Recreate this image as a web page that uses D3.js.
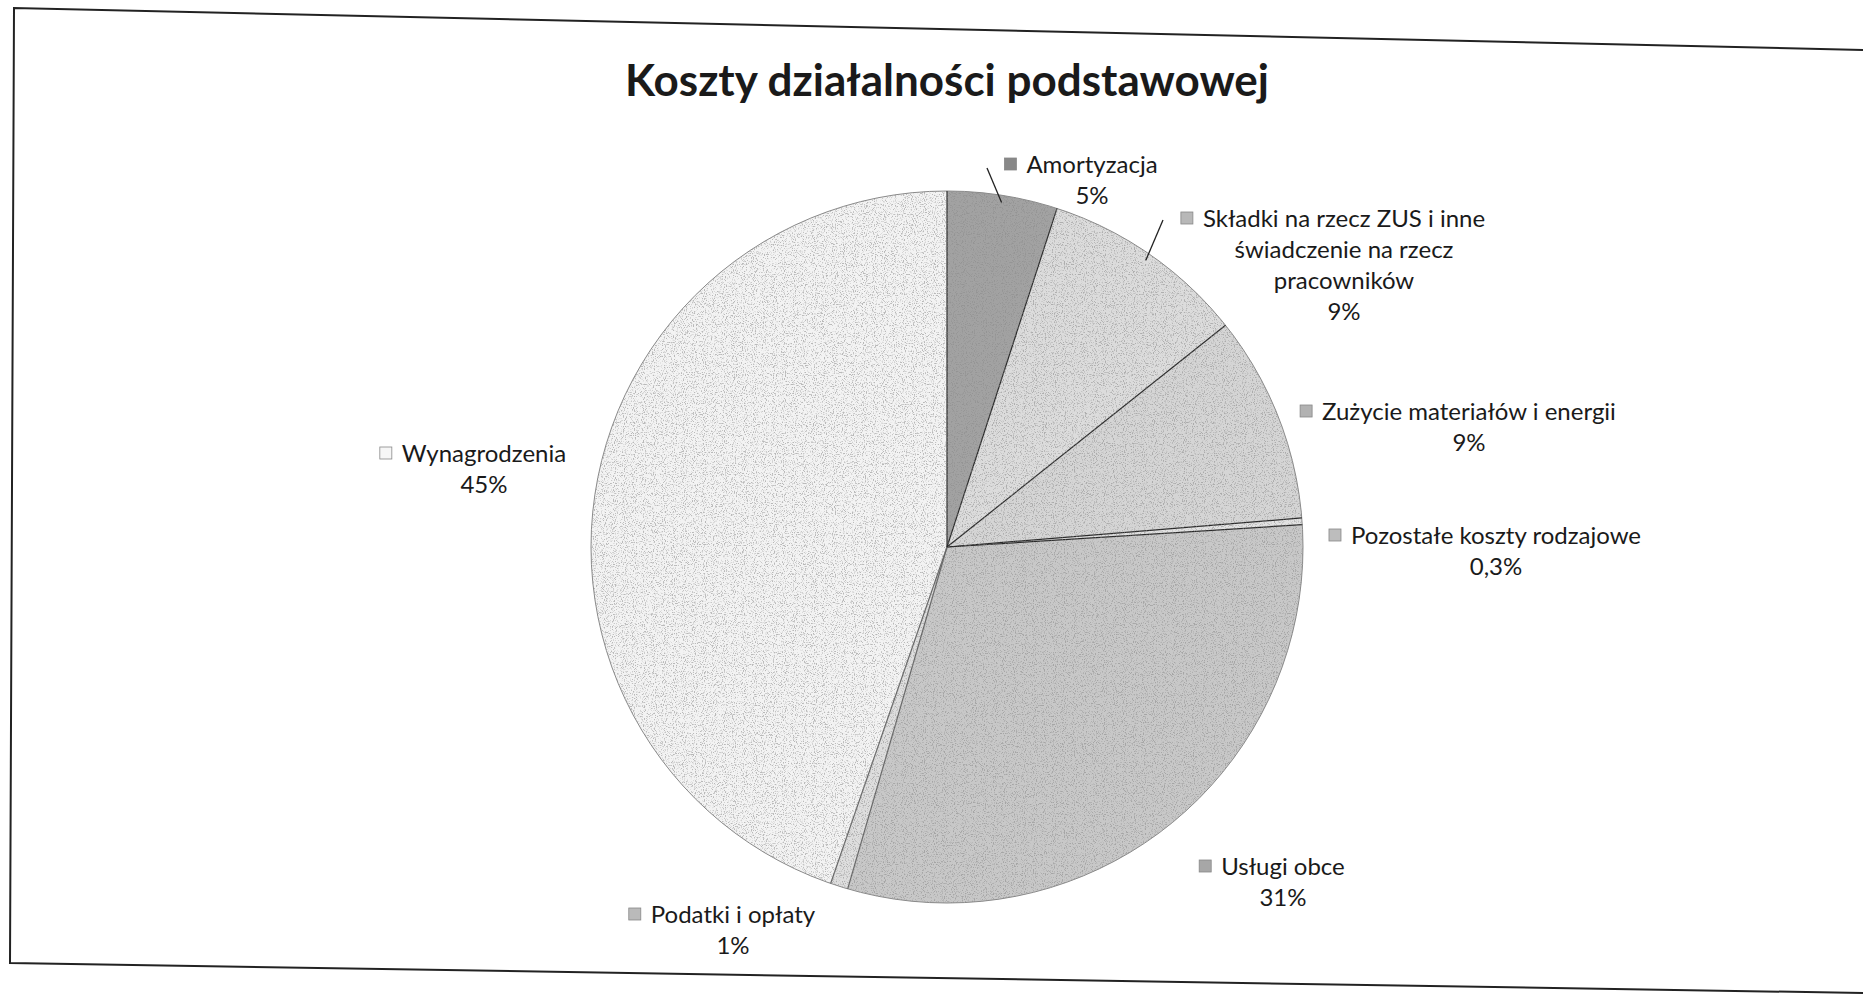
<!DOCTYPE html>
<html>
<head>
<meta charset="utf-8">
<script src="https://cdn.jsdelivr.net/npm/d3@7"></script>
<style>
  body { margin: 0; background: #fff; }
  svg text { font-family: Lato, "Open Sans", sans-serif; fill: #1a1a1a; }
</style>
</head>
<body>
<svg id="chart" width="1863" height="1001"></svg>
<script>
// data
const categories = ["Amortyzacja", "Składki na rzecz ZUS i inne świadczenie na rzecz pracowników",
  "Zużycie materiałów i energii", "Pozostałe koszty rodzajowe", "Usługi obce", "Podatki i opłaty", "Wynagrodzenia"];
const values = [5, 9.3, 9.4, 0.3, 30.5, 0.8, 44.7];
const percentLabels = ["5%", "9%", "9%", "0,3%", "31%", "1%", "45%"];
// label text split into lines, as on the chart
const labelLines = [
  ["Amortyzacja"],
  ["Składki na rzecz ZUS i inne", "świadczenie na rzecz", "pracowników"],
  ["Zużycie materiałów i energii"],
  ["Pozostałe koszty rodzajowe"],
  ["Usługi obce"],
  ["Podatki i opłaty"],
  ["Wynagrodzenia"]
];
const colors = ["#a2a2a2", "#dcdcdc", "#d5d5d5", "#e2e2e2", "#c8c8c8", "#dedede", "#f3f3f3"];

// layout: label anchors (text centre x, first baseline y) and leader lines
const labelPos = [[1092, 173], [1344, 227], [1469, 420], [1496, 544], [1283, 875], [733, 923], [484, 462]];
const leaderStart = {0: [987, 168], 1: [1163, 220]};
const lineGap = 31;

const width = 1863, height = 1001;
const cx = 947, cy = 547, radius = 356;
const svg = d3.select("#chart");

// scanned page frame (slightly skewed)
svg.append("path")
  .attr("d", "M1863,50 L14,8 L10,963 L1863,993")
  .attr("fill", "none")
  .attr("stroke", "#222")
  .attr("stroke-width", 2);

// title
svg.append("text")
  .attr("x", 947)
  .attr("y", 96)
  .attr("text-anchor", "middle")
  .attr("font-size", 44)
  .attr("font-weight", "bold")
  .text("Koszty działalności podstawowej");

// grain filter to mimic the photocopy
const defs = svg.append("defs");
const f = defs.append("filter").attr("id", "grain").attr("x", 0).attr("y", 0).attr("width", 1).attr("height", 1);
f.append("feTurbulence").attr("type", "fractalNoise").attr("baseFrequency", 0.9).attr("numOctaves", 2).attr("seed", 3).attr("result", "n");
f.append("feColorMatrix").attr("in", "n").attr("type", "matrix")
  .attr("values", "0 0 0 0 0.25  0 0 0 0 0.25  0 0 0 0 0.25  5 0 0 0 -2.6");
defs.append("clipPath").attr("id", "pieClip")
  .append("circle").attr("cx", cx).attr("cy", cy).attr("r", radius);

const pie = d3.pie().sort(null).value(d => d);
const arcs = pie(values);
const arc = d3.arc().innerRadius(0).outerRadius(radius);

const g = svg.append("g").attr("transform", `translate(${cx},${cy})`);
g.selectAll("path.slice")
  .data(arcs)
  .join("path")
  .attr("class", "slice")
  .attr("d", arc)
  .attr("fill", (d, i) => colors[i]);

// speckle overlay on the pie
svg.append("rect")
  .attr("x", cx - radius).attr("y", cy - radius)
  .attr("width", radius * 2).attr("height", radius * 2)
  .attr("filter", "url(#grain)")
  .attr("clip-path", "url(#pieClip)")
  .attr("opacity", 0.55);

// outline and slice borders
g.append("circle").attr("r", radius).attr("fill", "none").attr("stroke", "#8a8a8a").attr("stroke-width", 1);
const polar = (a, r) => [Math.sin(a) * r, -Math.cos(a) * r];
g.selectAll("line.sep")
  .data(arcs)
  .join("line")
  .attr("class", "sep")
  .attr("x1", 0).attr("y1", 0)
  .attr("x2", d => polar(d.startAngle, radius)[0])
  .attr("y2", d => polar(d.startAngle, radius)[1])
  .attr("stroke", (d, i) => i === 5 || i === 6 ? "#666" : "#2a2a2a")
  .attr("stroke-width", 1.2);

// labels
const labels = svg.append("g");
arcs.forEach((d, i) => {
  const [lx, ly] = labelPos[i];
  const lines = labelLines[i].concat([percentLabels[i]]);
  const grp = labels.append("g");
  const texts = grp.selectAll("text")
    .data(lines)
    .join("text")
    .attr("x", lx)
    .attr("y", (t, k) => ly + k * lineGap)
    .attr("text-anchor", "middle")
    .attr("font-size", 24)
    .text(t => t);
  // small legend key before first line
  const w = texts.node().getComputedTextLength();
  grp.append("rect")
    .attr("x", lx - w / 2 - 22)
    .attr("y", ly - 15)
    .attr("width", 12)
    .attr("height", 12)
    .attr("fill", i === 6 ? "#f6f6f6" : d3.color(colors[i]).darker(0.5))
    .attr("stroke", "#888")
    .attr("stroke-width", 0.8);

  if (leaderStart[i]) {
    const mid = (d.startAngle + d.endAngle) / 2;
    const p = polar(mid, radius * 0.98);
    svg.append("line")
      .attr("x1", leaderStart[i][0]).attr("y1", leaderStart[i][1])
      .attr("x2", cx + p[0]).attr("y2", cy + p[1])
      .attr("stroke", "#222")
      .attr("stroke-width", 1.3);
  }
});
</script>
</body>
</html>
